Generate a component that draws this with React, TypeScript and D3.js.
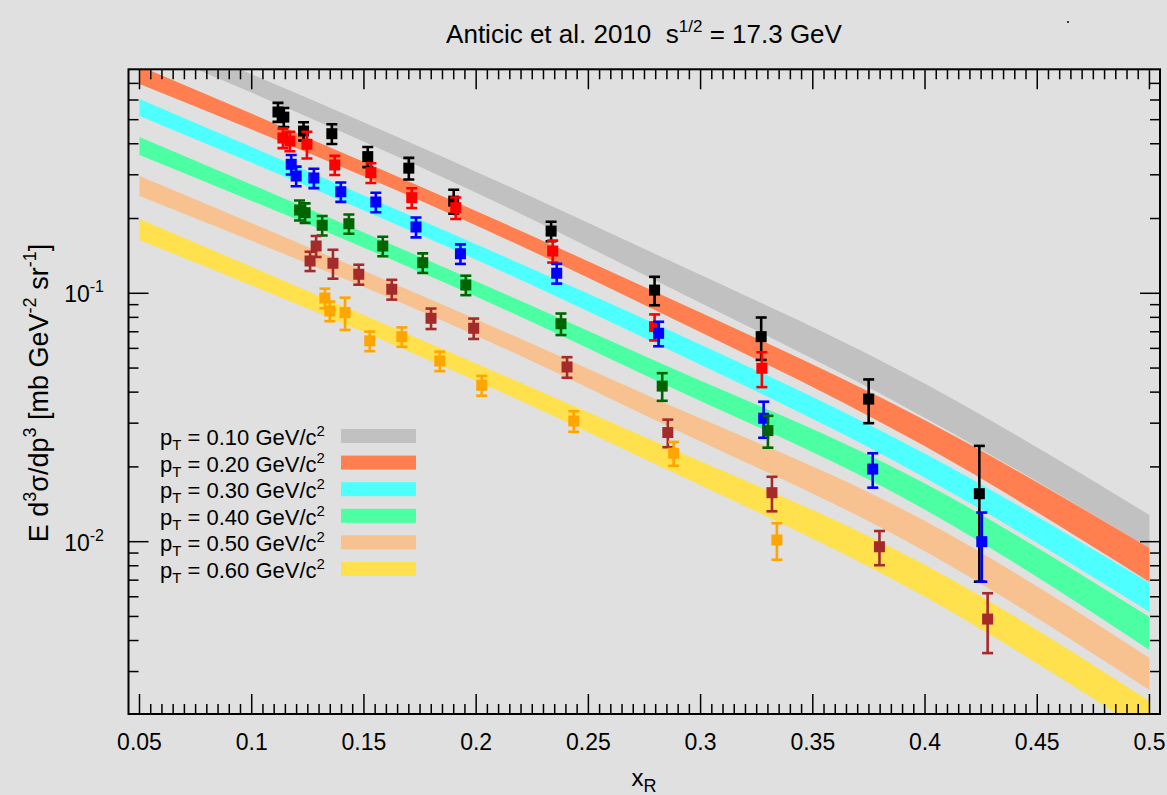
import React, { useEffect, useRef } from "react";
import * as d3 from "d3";

// ---- data ----------------------------------------------------------------
const xTickValues = [0.05, 0.1, 0.15, 0.2, 0.25, 0.3, 0.35, 0.4, 0.45, 0.5];
const xTickLabels = ["0.05", "0.1", "0.15", "0.2", "0.25", "0.3", "0.35", "0.4", "0.45", "0.5"];
const yTickValues = [0.01, 0.1];
const yTickExponents = ["-2", "-1"];

const ptLabels = ["0.10", "0.20", "0.30", "0.40", "0.50", "0.60"];
const bandColors = ["#c1c1c1", "#ff7f50", "#4dffff", "#4dffa3", "#f7c190", "#ffe04d"];
const pointColors = ["#000000", "#ff0000", "#0000ff", "#006400", "#a52a2a", "#ffa500"];

// model bands: lower / upper edge sampled at bandX
const bandX = [0.05, 0.22, 0.275, 0.4, 0.5];
const band010Lo = [0.999, 0.2086, 0.1185, 0.0315, 0.00943];
const band010Hi = [1.181, 0.2557, 0.1508, 0.0432, 0.0128];
const band020Lo = [0.6959, 0.155, 0.0897, 0.0242, 0.00688];
const band020Hi = [0.8226, 0.1781, 0.106, 0.0308, 0.00943];
const band030Lo = [0.5175, 0.1131, 0.0661, 0.0181, 0.00521];
const band030Hi = [0.6057, 0.1312, 0.0788, 0.0226, 0.00682];
const band040Lo = [0.3603, 0.0803, 0.0469, 0.01345, 0.00366];
const band040Hi = [0.4257, 0.0931, 0.0559, 0.01715, 0.00497];
const band050Lo = [0.2464, 0.05592, 0.03236, 0.00915, 0.00253];
const band050Hi = [0.2966, 0.06546, 0.0393, 0.0121, 0.0034];
const band060Lo = [0.1639, 0.03685, 0.02153, 0.006, 0.00167];
const band060Hi = [0.1991, 0.04353, 0.02638, 0.00805, 0.00228];

// measured points
const pt010X = [0.1117, 0.1143, 0.1231, 0.1357, 0.1517, 0.17, 0.19, 0.2334, 0.2795, 0.327, 0.3749, 0.4242];
const pt010Y = [0.537, 0.512, 0.45, 0.439, 0.355, 0.319, 0.235, 0.178, 0.103, 0.0669, 0.0375, 0.0156];
const pt010E = [0.047, 0.045, 0.038, 0.04, 0.033, 0.032, 0.026, 0.016, 0.0135, 0.013, 0.0075, 0.0087];

const pt020X = [0.1139, 0.117, 0.1246, 0.137, 0.1531, 0.1713, 0.1909, 0.2341, 0.2795, 0.3273];
const pt020Y = [0.422, 0.41, 0.398, 0.3285, 0.306, 0.2426, 0.2211, 0.148, 0.0734, 0.0499];
const pt020E = [0.038, 0.037, 0.049, 0.029, 0.028, 0.022, 0.022, 0.015, 0.0088, 0.008];

const pt030X = [0.1176, 0.1198, 0.1277, 0.1397, 0.1553, 0.1732, 0.193, 0.2359, 0.2813, 0.3281, 0.3767, 0.4253];
const pt030Y = [0.3306, 0.2966, 0.2912, 0.2564, 0.2331, 0.1849, 0.1443, 0.1204, 0.069, 0.0314, 0.0196, 0.01];
const pt030E = [0.03, 0.027, 0.026, 0.023, 0.021, 0.017, 0.013, 0.011, 0.0078, 0.0052, 0.0031, 0.0031];

const pt040X = [0.1213, 0.1238, 0.1314, 0.1433, 0.1584, 0.1762, 0.1954, 0.2378, 0.2829, 0.33];
const pt040Y = [0.2164, 0.2111, 0.1878, 0.1906, 0.155, 0.1328, 0.108, 0.0754, 0.0423, 0.028];
const pt040E = [0.02, 0.019, 0.017, 0.017, 0.014, 0.012, 0.0097, 0.0075, 0.0054, 0.0041];

const pt050X = [0.126, 0.1287, 0.1362, 0.1477, 0.1624, 0.1799, 0.1989, 0.2405, 0.2854, 0.3318, 0.3797, 0.4279];
const pt050Y = [0.1349, 0.155, 0.1321, 0.1193, 0.1038, 0.0793, 0.0723, 0.0505, 0.0275, 0.01575, 0.00954, 0.00488];
const pt050E = [0.012, 0.015, 0.0176, 0.011, 0.0095, 0.0075, 0.0068, 0.0048, 0.0035, 0.0025, 0.0015, 0.00132];

const pt060X = [0.1326, 0.1348, 0.1416, 0.1526, 0.1669, 0.1838, 0.2025, 0.2435, 0.288, 0.334];
const pt060Y = [0.0957, 0.0849, 0.0836, 0.0643, 0.0669, 0.0534, 0.0426, 0.0306, 0.0227, 0.01016];
const pt060E = [0.0087, 0.0077, 0.0124, 0.0058, 0.006, 0.0048, 0.0039, 0.0029, 0.0025, 0.0017];

// ---- layout --------------------------------------------------------------
const W = 1167;
const H = 795;
const PL = 128.5;
const PR = 1160;
const PT = 69.3;
const PB = 714;
const FONT = "'Liberation Sans', Arial, Helvetica, sans-serif";

export default function App() {
  const ref = useRef<SVGSVGElement | null>(null);

  useEffect(() => {
    const svg = d3.select(ref.current);
    svg.selectAll("*").remove();

    const x = d3.scaleLinear().domain([0.0451, 0.5047]).range([PL, PR]);
    const y = d3.scaleLog().domain([0.002024, 0.7976]).range([PB, PT]);

    svg.append("rect").attr("width", W).attr("height", H).attr("fill", "#dfe0df");

    svg
      .append("defs")
      .append("clipPath")
      .attr("id", "plotclip")
      .append("rect")
      .attr("x", PL)
      .attr("y", PT)
      .attr("width", PR - PL)
      .attr("height", PB - PT);

    // bands
    const bands = [
      [band010Lo, band010Hi],
      [band020Lo, band020Hi],
      [band030Lo, band030Hi],
      [band040Lo, band040Hi],
      [band050Lo, band050Hi],
      [band060Lo, band060Hi],
    ];
    const area = d3
      .area<{ x: number; lo: number; hi: number }>()
      .x((d) => x(d.x))
      .y0((d) => y(d.lo))
      .y1((d) => y(d.hi))
      .curve(d3.curveMonotoneX);
    const gBands = svg.append("g").attr("clip-path", "url(#plotclip)");
    bands.forEach(([lo, hi], i) => {
      const pts = bandX.map((xv, k) => ({ x: xv, lo: lo[k], hi: hi[k] }));
      gBands.append("path").attr("d", area(pts) as string).attr("fill", bandColors[i]);
    });

    // axes frame & ticks
    const gAx = svg.append("g").attr("stroke", "#000").attr("fill", "none");
    const xMinor = d3.range(9, 101).map((k) => k * 0.005).filter((v) => v >= 0.0451 && v <= 0.5047);
    xMinor.forEach((v) => {
      const major = xTickValues.some((m) => Math.abs(m - v) < 1e-9);
      const len = major ? 20 : 10;
      const px = x(v);
      gAx.append("line").attr("x1", px).attr("x2", px).attr("y1", PB).attr("y2", PB - len).attr("stroke-width", 1.5);
      gAx.append("line").attr("x1", px).attr("x2", px).attr("y1", PT).attr("y2", PT + len).attr("stroke-width", 1.5);
    });
    const yMinor: number[] = [];
    [0.001, 0.01, 0.1].forEach((dec) => {
      for (let k = 1; k <= 9; k++) {
        const v = k * dec;
        if (v >= 0.002024 && v <= 0.7976) yMinor.push(v);
      }
    });
    yMinor.forEach((v) => {
      const major = yTickValues.some((m) => Math.abs(m - v) < 1e-12);
      const len = major ? 20 : 10;
      const py = y(v);
      gAx.append("line").attr("x1", PL).attr("x2", PL + len).attr("y1", py).attr("y2", py).attr("stroke-width", 1.5);
      gAx.append("line").attr("x1", PR).attr("x2", PR - len).attr("y1", py).attr("y2", py).attr("stroke-width", 1.5);
    });
    gAx
      .append("rect")
      .attr("x", PL)
      .attr("y", PT)
      .attr("width", PR - PL)
      .attr("height", PB - PT)
      .attr("stroke-width", 2);

    // data points
    const series = [
      [pt010X, pt010Y, pt010E],
      [pt020X, pt020Y, pt020E],
      [pt030X, pt030Y, pt030E],
      [pt040X, pt040Y, pt040E],
      [pt050X, pt050Y, pt050E],
      [pt060X, pt060Y, pt060E],
    ];
    const gPts = svg.append("g").attr("clip-path", "url(#plotclip)");
    series.forEach(([xs, ys, es], i) => {
      const c = pointColors[i];
      const g = gPts.append("g");
      xs.forEach((xv, k) => {
        const px = x(xv);
        const yTop = y(ys[k] + es[k]);
        const yBot = y(Math.max(ys[k] - es[k], 1e-5));
        const py = y(ys[k]);
        g.append("line").attr("x1", px).attr("x2", px).attr("y1", yTop).attr("y2", yBot).attr("stroke", c).attr("stroke-width", 2.6);
        [yTop, yBot].forEach((yy) =>
          g.append("line").attr("x1", px - 5.5).attr("x2", px + 5.5).attr("y1", yy).attr("y2", yy).attr("stroke", c).attr("stroke-width", 2.6)
        );
        g.append("rect").attr("x", px - 5.5).attr("y", py - 5.5).attr("width", 11).attr("height", 11).attr("fill", c);
      });
    });

    // tick labels
    const gTxt = svg.append("g").attr("font-family", FONT).attr("fill", "#000");
    xTickValues.forEach((v, i) => {
      gTxt.append("text").attr("x", x(v)).attr("y", 750).attr("text-anchor", "middle").attr("font-size", 23).text(xTickLabels[i]);
    });
    yTickValues.forEach((v, i) => {
      const t = gTxt.append("text").attr("x", 104).attr("y", y(v) + 9).attr("text-anchor", "end").attr("font-size", 23);
      t.append("tspan").text("10");
      t.append("tspan").attr("font-size", 16).attr("dy", -10).text(yTickExponents[i]);
    });

    // axis titles
    const xt = gTxt.append("text").attr("x", 644).attr("y", 786).attr("text-anchor", "middle").attr("font-size", 24);
    xt.append("tspan").text("x");
    xt.append("tspan").attr("font-size", 18).attr("dy", 6).text("R");

    const yt = gTxt
      .append("text")
      .attr("transform", "translate(48,393) rotate(-90)")
      .attr("text-anchor", "middle")
      .attr("font-size", 27);
    const ySegs: [string, number][] = [
      ["E d", 0],
      ["3", -1],
      ["σ/dp", 1],
      ["3", -1],
      [" [mb GeV", 1],
      ["-2", -1],
      [" sr", 1],
      ["-1", -1],
      ["]", 1],
    ];
    ySegs.forEach(([s, m]) => {
      const ts = yt.append("tspan").style("white-space", "pre").text(s);
      if (m === -1) ts.attr("font-size", 18).attr("dy", -12);
      else if (m === 1) ts.attr("dy", 12);
    });

    // title
    const tt = gTxt
      .append("text")
      .attr("x", 644)
      .attr("y", 43)
      .attr("text-anchor", "middle")
      .attr("font-size", 26)
      .style("white-space", "pre");
    tt.append("tspan").text("Anticic et al. 2010  s");
    tt.append("tspan").attr("font-size", 17).attr("dy", -11).text("1/2");
    tt.append("tspan").attr("dy", 11).text(" = 17.3 GeV");

    svg.append("circle").attr("cx", 1068).attr("cy", 22).attr("r", 1).attr("fill", "#000");

    // legend
    const gLeg = svg.append("g").attr("font-family", FONT);
    ptLabels.forEach((lab, i) => {
      const cy = 436 + i * 26.6;
      const t = gLeg.append("text").attr("x", 160).attr("y", cy + 9).attr("font-size", 22).style("white-space", "pre");
      t.append("tspan").text("p");
      t.append("tspan").attr("font-size", 15).attr("dy", 5).text("T");
      t.append("tspan").attr("dy", -5).text(` = ${lab} GeV/c`);
      t.append("tspan").attr("font-size", 15).attr("dy", -9).text("2");
      gLeg.append("rect").attr("x", 341).attr("y", cy - 7).attr("width", 75).attr("height", 14).attr("fill", bandColors[i]);
    });
  }, []);

  return (
    <svg
      ref={ref}
      width={W}
      height={H}
      style={{ position: "fixed", left: 0, top: 0, display: "block" }}
    />
  );
}
